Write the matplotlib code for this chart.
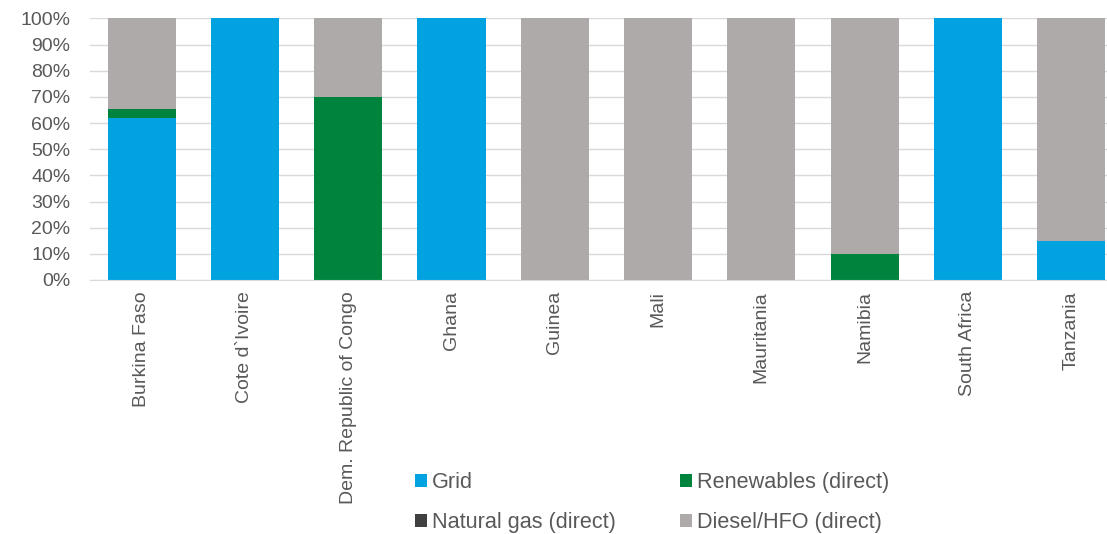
import numpy as np
import matplotlib.pyplot as plt

plt.rcParams['font.family'] = ['Liberation Sans', 'DejaVu Sans']

countries = ["Burkina Faso", "Cote d`Ivoire", "Dem. Republic of Congo", "Ghana",
             "Guinea", "Mali", "Mauritania", "Namibia", "South Africa", "Tanzania"]
grid = [62, 100, 0, 100, 0, 0, 0, 0, 100, 15]
renewables = [3.5, 0, 70, 0, 0, 0, 0, 10, 0, 0]
natural_gas = [0, 0, 0, 0, 0, 0, 0, 0, 0, 0]
diesel = [34.5, 0, 30, 0, 100, 100, 100, 90, 0, 85]

series = [("Grid", grid, "#00A3E0"),
          ("Renewables (direct)", renewables, "#00843D"),
          ("Natural gas (direct)", natural_gas, "#404040"),
          ("Diesel/HFO (direct)", diesel, "#AEAAAA")]

text_col = "#595959"

fig = plt.figure(figsize=(11.07, 5.34), dpi=100)
ax = fig.add_axes([0.0813, 0.4757, 0.933, 0.4897])

x = np.arange(len(countries))
bottom = np.zeros(len(countries))
handles = {}
for name, vals, col in series:
    vals = np.array(vals, dtype=float)
    b = ax.bar(x, vals, 0.66, bottom=bottom, color=col, label=name, zorder=2)
    handles[name] = b
    bottom += vals

ax.set_xlim(-0.5, len(countries) - 0.5)
ax.set_ylim(0, 100)
ax.set_yticks(np.arange(0, 101, 10))
ax.set_yticklabels([f"{v}%" for v in range(0, 101, 10)])
ax.set_xticks(x)
ax.set_xticklabels(countries, rotation=90)
ax.tick_params(axis='both', length=0, labelsize=14, labelcolor=text_col)
ax.tick_params(axis='y', pad=14)
ax.tick_params(axis='x', pad=8)
ax.yaxis.grid(True, color="#D9D9D9", linewidth=1, zorder=0)
ax.set_axisbelow(True)
for s in ["top", "right", "left"]:
    ax.spines[s].set_visible(False)
ax.spines["bottom"].set_color("#D9D9D9")

order = ["Grid", "Natural gas (direct)", "Renewables (direct)", "Diesel/HFO (direct)"]
leg = fig.legend([handles[n] for n in order], order, ncol=2,
                 loc="upper left", bbox_to_anchor=(0.3575, 0.152),
                 frameon=False, fontsize=15.6, handlelength=0.55, handleheight=0.55,
                 handletextpad=0.2, columnspacing=3.0, labelspacing=0.85)
for t in leg.get_texts():
    t.set_color(text_col)

fig.savefig("out.png", dpi=100)
